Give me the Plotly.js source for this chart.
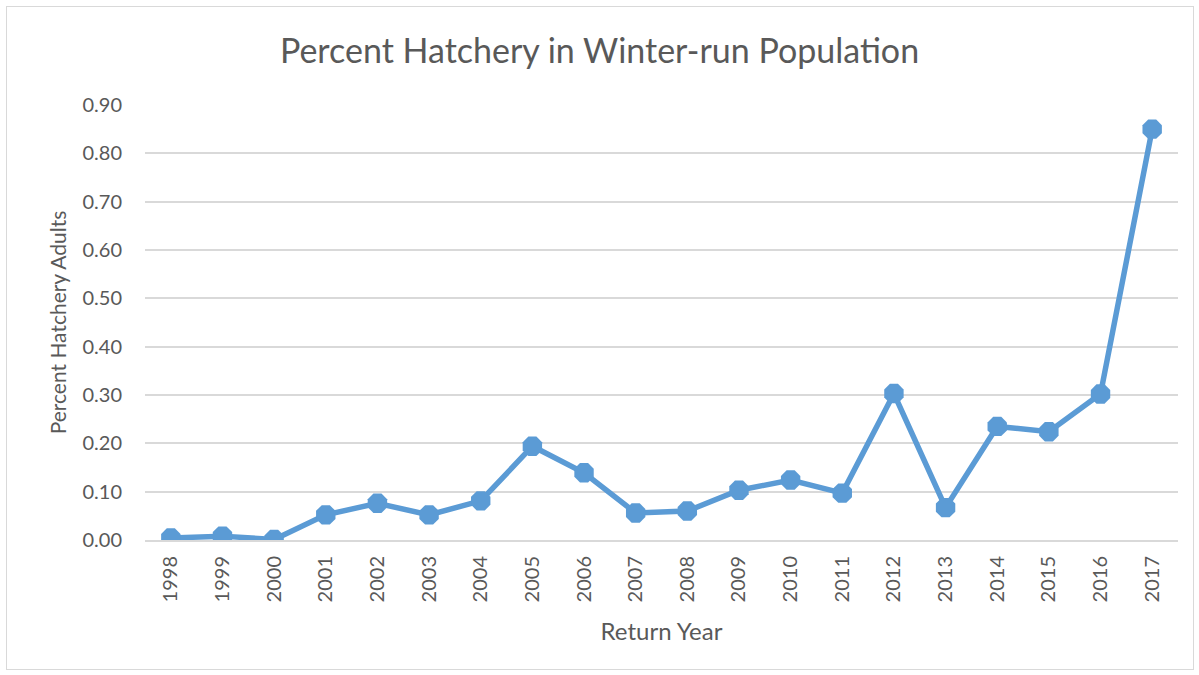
<!DOCTYPE html>
<html>
<head>
<meta charset="utf-8">
<script src="https://cdn.plot.ly/plotly-3.0.1.min.js"></script>
<style>
html,body{margin:0;padding:0;background:#fff;}
#wrap{position:absolute;left:0;top:0;width:1199px;height:675px;}
#frame{position:absolute;left:6px;top:6px;width:1186px;height:662px;border:1px solid #d9d9d9;pointer-events:none;}
#chart{width:1199px;height:675px;}
</style>
</head>
<body>
<div id="wrap"><div id="chart"></div><div id="frame"></div></div>
<script>
const years = ['1998','1999','2000','2001','2002','2003','2004','2005','2006','2007','2008','2009','2010','2011','2012','2013','2014','2015','2016','2017'];
const pctHatchery = [0.004,0.008,0.001,0.052,0.076,0.052,0.081,0.194,0.139,0.056,0.060,0.103,0.124,0.097,0.303,0.067,0.235,0.224,0.302,0.850];
const yTicks = [0,0.1,0.2,0.3,0.4,0.5,0.6,0.7,0.8,0.9];

const FONT = 'Lato, "Open Sans", sans-serif';
const GREY = '#595959';

Plotly.newPlot('chart', [{
  type: 'scatter',
  mode: 'lines+markers',
  x: years,
  y: pctHatchery,
  line: {color: '#5B9BD5', width: 5.5},
  marker: {color: '#5B9BD5', size: 21, symbol: 'octagon'},
  hoverinfo: 'x+y'
}], {
  width: 1199, height: 675,
  margin: {l: 145, r: 21, t: 105, b: 135},
  paper_bgcolor: '#fff', plot_bgcolor: '#fff',
  showlegend: false,
  title: {text: 'Percent Hatchery in Winter-run Population', font: {family: FONT, size: 34, color: GREY}, x: 0.5, xanchor: 'center', y: 0.925, yanchor: 'middle'},
  xaxis: {
    type: 'category',
    range: [-0.5, 19.5],
    tickangle: -90,
    tickfont: {family: FONT, size: 20, color: GREY},
    showgrid: false,
    showline: true, linecolor: '#d9d9d9', linewidth: 2,
    ticks: '', ticklen: 0, ticklabelstandoff: 6,
    title: {text: 'Return Year', font: {family: FONT, size: 24, color: GREY}, standoff: 22},
    automargin: false
  },
  yaxis: {
    range: [0, 0.9],
    tickvals: yTicks,
    tickformat: '.2f',
    tickfont: {family: FONT, size: 20, color: GREY},
    showgrid: true, gridcolor: '#d9d9d9', gridwidth: 2,
    zeroline: true, zerolinecolor: '#d9d9d9', zerolinewidth: 2,
    ticks: '', ticklabelstandoff: 22,
    title: {text: 'Percent Hatchery Adults', font: {family: FONT, size: 21, color: GREY}, standoff: 10},
    automargin: false
  }
}, {displayModeBar: false, staticPlot: true});
</script>
</body>
</html>
